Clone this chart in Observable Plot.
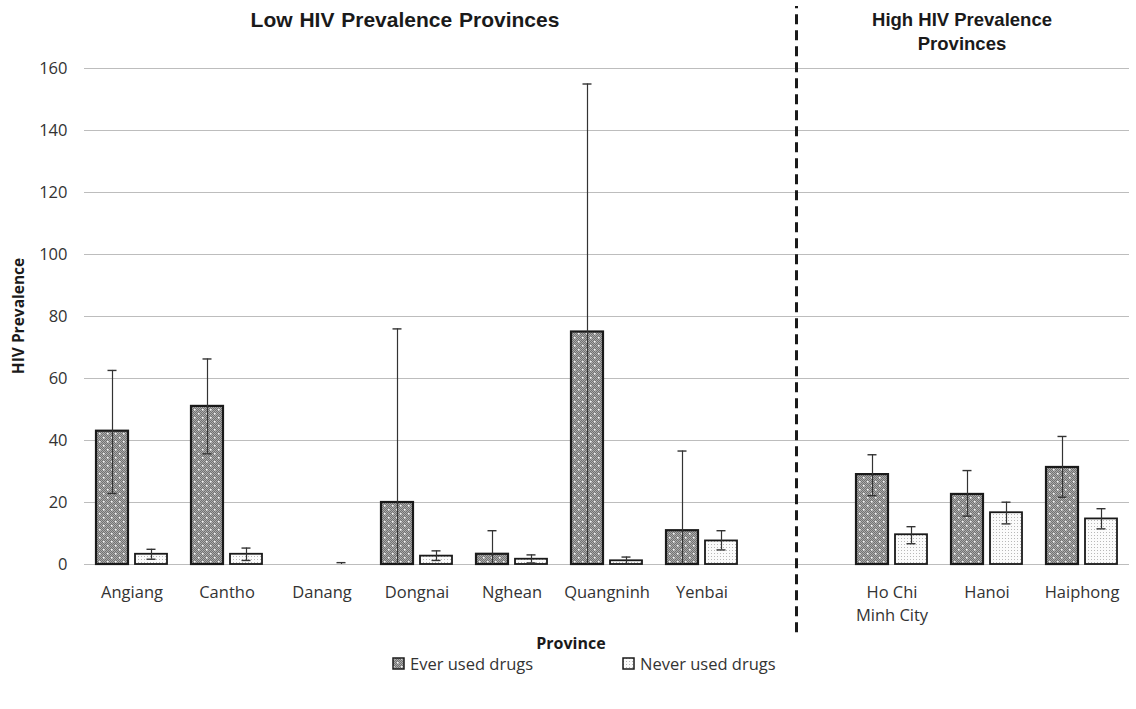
<!DOCTYPE html>
<html>
<head>
<meta charset="utf-8">
<script src="https://cdn.jsdelivr.net/npm/d3@7"></script>
<script src="https://cdn.jsdelivr.net/npm/@observablehq/plot@0.6"></script>
<style>
  html, body { margin: 0; padding: 0; background: #fff; }
  #wrap { position: relative; width: 1136px; height: 709px; overflow: hidden; }
  .title { position: absolute; font-family: "Liberation Sans", Arial, sans-serif; font-weight: bold; color: #1a1a1a; text-align: center; line-height: 24px; white-space: nowrap; }
  .axtitle { position: absolute; font-family: "Open Sans", sans-serif; font-weight: bold; font-size: 15.5px; color: #1a1a1a; }
  #legend { position: absolute; left: 0; top: 652px; width: 1136px; font-family: "Open Sans", sans-serif; font-size: 16.5px; color: #333; }
  .lg { position: absolute; display: flex; align-items: center; gap: 5px; white-space: nowrap; }
</style>
</head>
<body>
<svg width="0" height="0" style="position:absolute">
  <defs>
    <pattern id="checker" width="2" height="2" patternUnits="userSpaceOnUse">
      <rect width="2" height="2" fill="#aaaaaa"></rect>
      <rect width="1" height="1" fill="#727272"></rect>
      <rect x="1" y="1" width="1" height="1" fill="#727272"></rect>
    </pattern>
    <pattern id="everPat" width="8" height="8" patternUnits="userSpaceOnUse">
      <rect width="8" height="8" fill="url(#checker)"></rect>
      <rect x="1" y="1" width="1.6" height="1.6" fill="#f2f2f2"></rect>
      <rect x="5" y="5" width="1.6" height="1.6" fill="#f2f2f2"></rect>
    </pattern>
    <pattern id="neverPat" width="3" height="3" patternUnits="userSpaceOnUse">
      <rect width="3" height="3" fill="#fbfbfb"></rect>
      <rect x="1" y="1" width="1" height="1" fill="#b8b8b8"></rect>
    </pattern>
  </defs>
</svg>
<div id="wrap">
  <div class="title" style="left:205px; top:8px; width:400px; font-size:21px; word-spacing:1px;">Low HIV Prevalence Provinces</div>
  <div class="title" style="left:862px; top:8px; width:200px; font-size:18.5px;">High HIV Prevalence<br>Provinces</div>
  <div class="axtitle" style="left:18px; top:316px; transform: translate(-50%,-50%) rotate(-90deg); white-space:nowrap;">HIV Prevalence</div>
  <div class="axtitle" style="left:571px; top:643px; transform: translate(-50%,-50%); font-size:16px;">Province</div>
  <div id="chart"></div>
  <div id="legend"></div>
</div>
<script>
// ---- data ----
const lowProvinces = ["Angiang", "Cantho", "Danang", "Dongnai", "Nghean", "Quangninh", "Yenbai"];
const highProvinces = ["Ho Chi\nMinh City", "Hanoi", "Haiphong"];
const separatorSlot = " ";
const groups = ["Ever used drugs", "Never used drugs"];

const everValues = [43, 51, 0, 20, 3.3, 75, 10.9, 29, 22.6, 31.3];
const everLower  = [22.9, 35.7, null, 0, 0, 0, 0, 22.2, 15.6, 21.7];
const everUpper  = [62.6, 66.3, null, 76, 10.9, 155, 36.6, 35.4, 30.3, 41.3];

const neverValues = [3.3, 3.3, 0, 2.7, 1.7, 1.2, 7.6, 9.6, 16.7, 14.7];
const neverLower  = [1.7, 1.3, 0, 1.3, 0.5, 0, 4.7, 6.7, 13.1, 11.5];
const neverUpper  = [4.9, 5.3, 0.6, 4.4, 3.1, 2.4, 10.9, 12.2, 20.1, 18.0];

const yTicks = [0, 20, 40, 60, 80, 100, 120, 140, 160];
const separatorExtent = [-22, 180];

// ---- build table ----
const provinces = [...lowProvinces, ...highProvinces];
const slots = [...lowProvinces, separatorSlot, ...highProvinces];
const rows = [];
provinces.forEach((p, i) => {
  rows.push({province: p, group: groups[0], value: everValues[i], lo: everLower[i], hi: everUpper[i]});
  rows.push({province: p, group: groups[1], value: neverValues[i], lo: neverLower[i], hi: neverUpper[i]});
});
const errRows = rows.filter(d => d.hi != null);
const fillFor = {[groups[0]]: "url(#everPat)", [groups[1]]: "url(#neverPat)"};

const chart = Plot.plot({
  width: 1136,
  height: 654,
  marginLeft: 82,
  marginRight: 6,
  marginTop: 68,
  marginBottom: 90,
  style: {fontFamily: "Open Sans, sans-serif", fontSize: "16.5px", color: "#333", background: "transparent"},
  fx: {domain: slots, padding: 0, label: null},
  x: {domain: groups, paddingInner: 0.175, paddingOuter: 0.279, axis: null},
  y: {domain: [0, 160], label: null},
  marks: [
    Plot.axisFx({anchor: "bottom", tickSize: 0, tickPadding: 17, lineHeight: 1.4, label: null, fontSize: 16.5}),
    Plot.axisY({ticks: yTicks, tickSize: 0, tickPadding: 17, label: null, tickFormat: d => d, fontSize: 16.5}),
    Plot.ruleY(yTicks, {stroke: "#bdbdbd", strokeWidth: 1.2}),
    // keeps the empty separator slot as a facet so gridlines run through it
    Plot.text([separatorSlot], {fx: d => d, text: () => "", frameAnchor: "middle"}),
    Plot.barY(rows.filter(d => d.group === groups[0]), {fx: "province", x: "group", y: "value", fill: fillFor[groups[0]], stroke: "#1a1a1a", strokeWidth: 2.2}),
    Plot.barY(rows.filter(d => d.group === groups[1]), {fx: "province", x: "group", y: "value", fill: fillFor[groups[1]], stroke: "#1a1a1a", strokeWidth: 1.8}),
    Plot.ruleX(errRows, {fx: "province", x: "group", y1: "lo", y2: "hi", stroke: "#333", strokeWidth: 1.2}),
    Plot.tickY(errRows, {fx: "province", x: "group", y: "hi", stroke: "#333", strokeWidth: 1.4, insetLeft: 11.5, insetRight: 11.5}),
    Plot.tickY(errRows.filter(d => d.lo > 0), {fx: "province", x: "group", y: "lo", stroke: "#333", strokeWidth: 1.4, insetLeft: 11.5, insetRight: 11.5})
  ]
});
document.getElementById("chart").appendChild(chart);

// ---- separator between low and high prevalence provinces (positioned through the plot's own scales) ----
const fxScale = chart.scale("fx");
const yScale = chart.scale("y");
const sepX = fxScale.apply(separatorSlot) + fxScale.bandwidth / 2;
d3.select(chart).append("line")
  .attr("x1", sepX).attr("x2", sepX)
  .attr("y1", yScale.apply(separatorExtent[0]))
  .attr("y2", yScale.apply(separatorExtent[1]))
  .attr("stroke", "#1a1a1a").attr("stroke-width", 3).attr("stroke-dasharray", "10,6");
d3.select(chart).style("overflow", "visible");

// ---- legend ----
const legend = document.getElementById("legend");
const legendLefts = [392, 622];
groups.forEach((g, i) => {
  const item = document.createElement("div");
  item.className = "lg";
  item.style.left = legendLefts[i] + "px";
  item.innerHTML = `<svg width="13" height="13"><rect x="1" y="1" width="11" height="11" fill="${fillFor[g]}" stroke="#1a1a1a" stroke-width="1.5"></rect></svg><span>${g}</span>`;
  legend.appendChild(item);
});
</script>
</body>
</html>
